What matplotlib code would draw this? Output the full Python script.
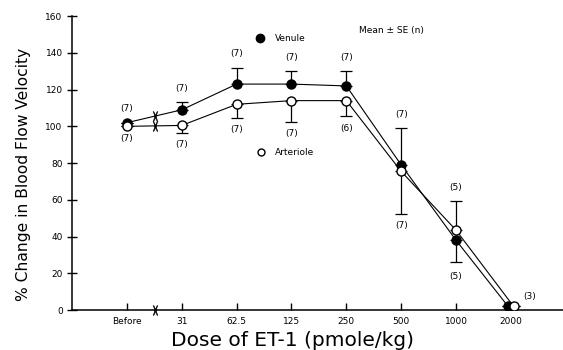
import numpy as np
import matplotlib.pyplot as plt

doses = ['Before', '31', '62.5', '125', '250', '500', '1000', '2000']

venule = [102, 109, 123, 123, 122, 79, 38, 2]
venule_se = [0, 4, 9, 7, 8, 20, 12, 0]
venule_n = ['(7)', '(7)', '(7)', '(7)', '(7)', '(7)', '(5)', '']

arteriole = [100, 100.5, 112, 114, 114, 75.5, 43.5, 2]
arteriole_se = [0, 4, 7.5, 11.5, 8.5, 23, 16, 0]
arteriole_n = ['(7)', '(7)', '(7)', '(7)', '(6)', '(7)', '(5)', '(3)']

# error bar direction for each point: +1 up, -1 down
venule_dir = [1, 1, 1, 1, 1, 1, -1, 1]
arteriole_dir = [-1, -1, -1, -1, -1, -1, 1, 1]

x = np.arange(len(doses))
x_v = x.astype(float).copy()
x_a = x.astype(float).copy()
x_v[-1] -= 0.05
x_a[-1] += 0.05

fig = plt.figure(figsize=(5.63, 3.5), dpi=100)
ax = fig.add_axes([0.128, 0.114, 0.872, 0.84])

lo_v = [s if d < 0 else 0 for s, d in zip(venule_se, venule_dir)]
hi_v = [s if d > 0 else 0 for s, d in zip(venule_se, venule_dir)]
lo_a = [s if d < 0 else 0 for s, d in zip(arteriole_se, arteriole_dir)]
hi_a = [s if d > 0 else 0 for s, d in zip(arteriole_se, arteriole_dir)]

ax.errorbar(x_v, venule, yerr=[lo_v, hi_v], fmt='none', ecolor='black',
            elinewidth=0.9, capsize=4, capthick=0.9, zorder=2)
ax.errorbar(x_a, arteriole, yerr=[lo_a, hi_a], fmt='none', ecolor='black',
            elinewidth=0.9, capsize=4, capthick=0.9, zorder=2)
ax.plot(x_v, venule, '-', color='black', lw=0.8, marker='o', ms=6.5,
        mfc='black', mec='black', zorder=3)
ax.plot(x_a, arteriole, '-', color='black', lw=0.8, marker='o', ms=6.5,
        mfc='white', mec='black', mew=1.0, zorder=4)

# n labels
for i in range(len(doses)):
    if venule_n[i]:
        if venule_dir[i] > 0:
            ax.text(x[i], venule[i] + venule_se[i] + 5, venule_n[i], ha='center',
                    va='bottom', fontsize=6.5)
        else:
            ax.text(x[i], venule[i] - venule_se[i] - 5, venule_n[i], ha='center',
                    va='top', fontsize=6.5)
    if arteriole_n[i]:
        if i == len(doses) - 1:
            ax.text(x[i] + 0.35, arteriole[i] + 3, arteriole_n[i], ha='center',
                    va='bottom', fontsize=6.5)
        elif arteriole_dir[i] < 0:
            ax.text(x[i], arteriole[i] - arteriole_se[i] - 4, arteriole_n[i],
                    ha='center', va='top', fontsize=6.5)
        else:
            ax.text(x[i], arteriole[i] + arteriole_se[i] + 5, arteriole_n[i],
                    ha='center', va='bottom', fontsize=6.5)

# break marks
for yv in [venule[0] + (venule[1] - venule[0]) * 0.52,
           arteriole[0] + (arteriole[1] - arteriole[0]) * 0.52, 0]:
    ax.plot([0.52], [yv], marker=r'$)\!($', ms=7, color='black', mew=0.3,
            clip_on=False, zorder=5)

# legend
ax.plot([2.42], [148], 'o', ms=6, color='black')
ax.text(2.7, 148, 'Venule', fontsize=6.5, va='center')
ax.plot([2.45], [86], 'o', ms=5, mfc='white', mec='black')
ax.text(2.7, 86, 'Arteriole', fontsize=6.5, va='center')
ax.text(4.24, 152, 'Mean \u00b1 SE (n)', fontsize=6.5, va='center')

ax.set_xlim(-1, 7.95)
ax.set_ylim(0, 160)
ax.set_xticks(x)
ax.set_xticklabels(doses, fontsize=6.5)
ax.set_yticks(np.arange(0, 161, 20))
ax.tick_params(axis='y', direction='inout', length=6.5, labelsize=6.5, width=1.0)
ax.tick_params(axis='x', direction='in', length=5, labelsize=6.5, width=1.0, pad=5)
ax.spines['top'].set_visible(False)
ax.spines['right'].set_visible(False)
ax.spines['left'].set_linewidth(1.1)
ax.spines['bottom'].set_linewidth(1.1)

fig.text(0.042, 0.503, '% Change in Blood Flow Velocity', fontsize=11.2,
         rotation=90, ha='center', va='center')
fig.text(0.52, 0.012, 'Dose of ET-1 (pmole/kg)', fontsize=14.5, ha='center',
         va='baseline')

fig.savefig('out.png', dpi=100)
